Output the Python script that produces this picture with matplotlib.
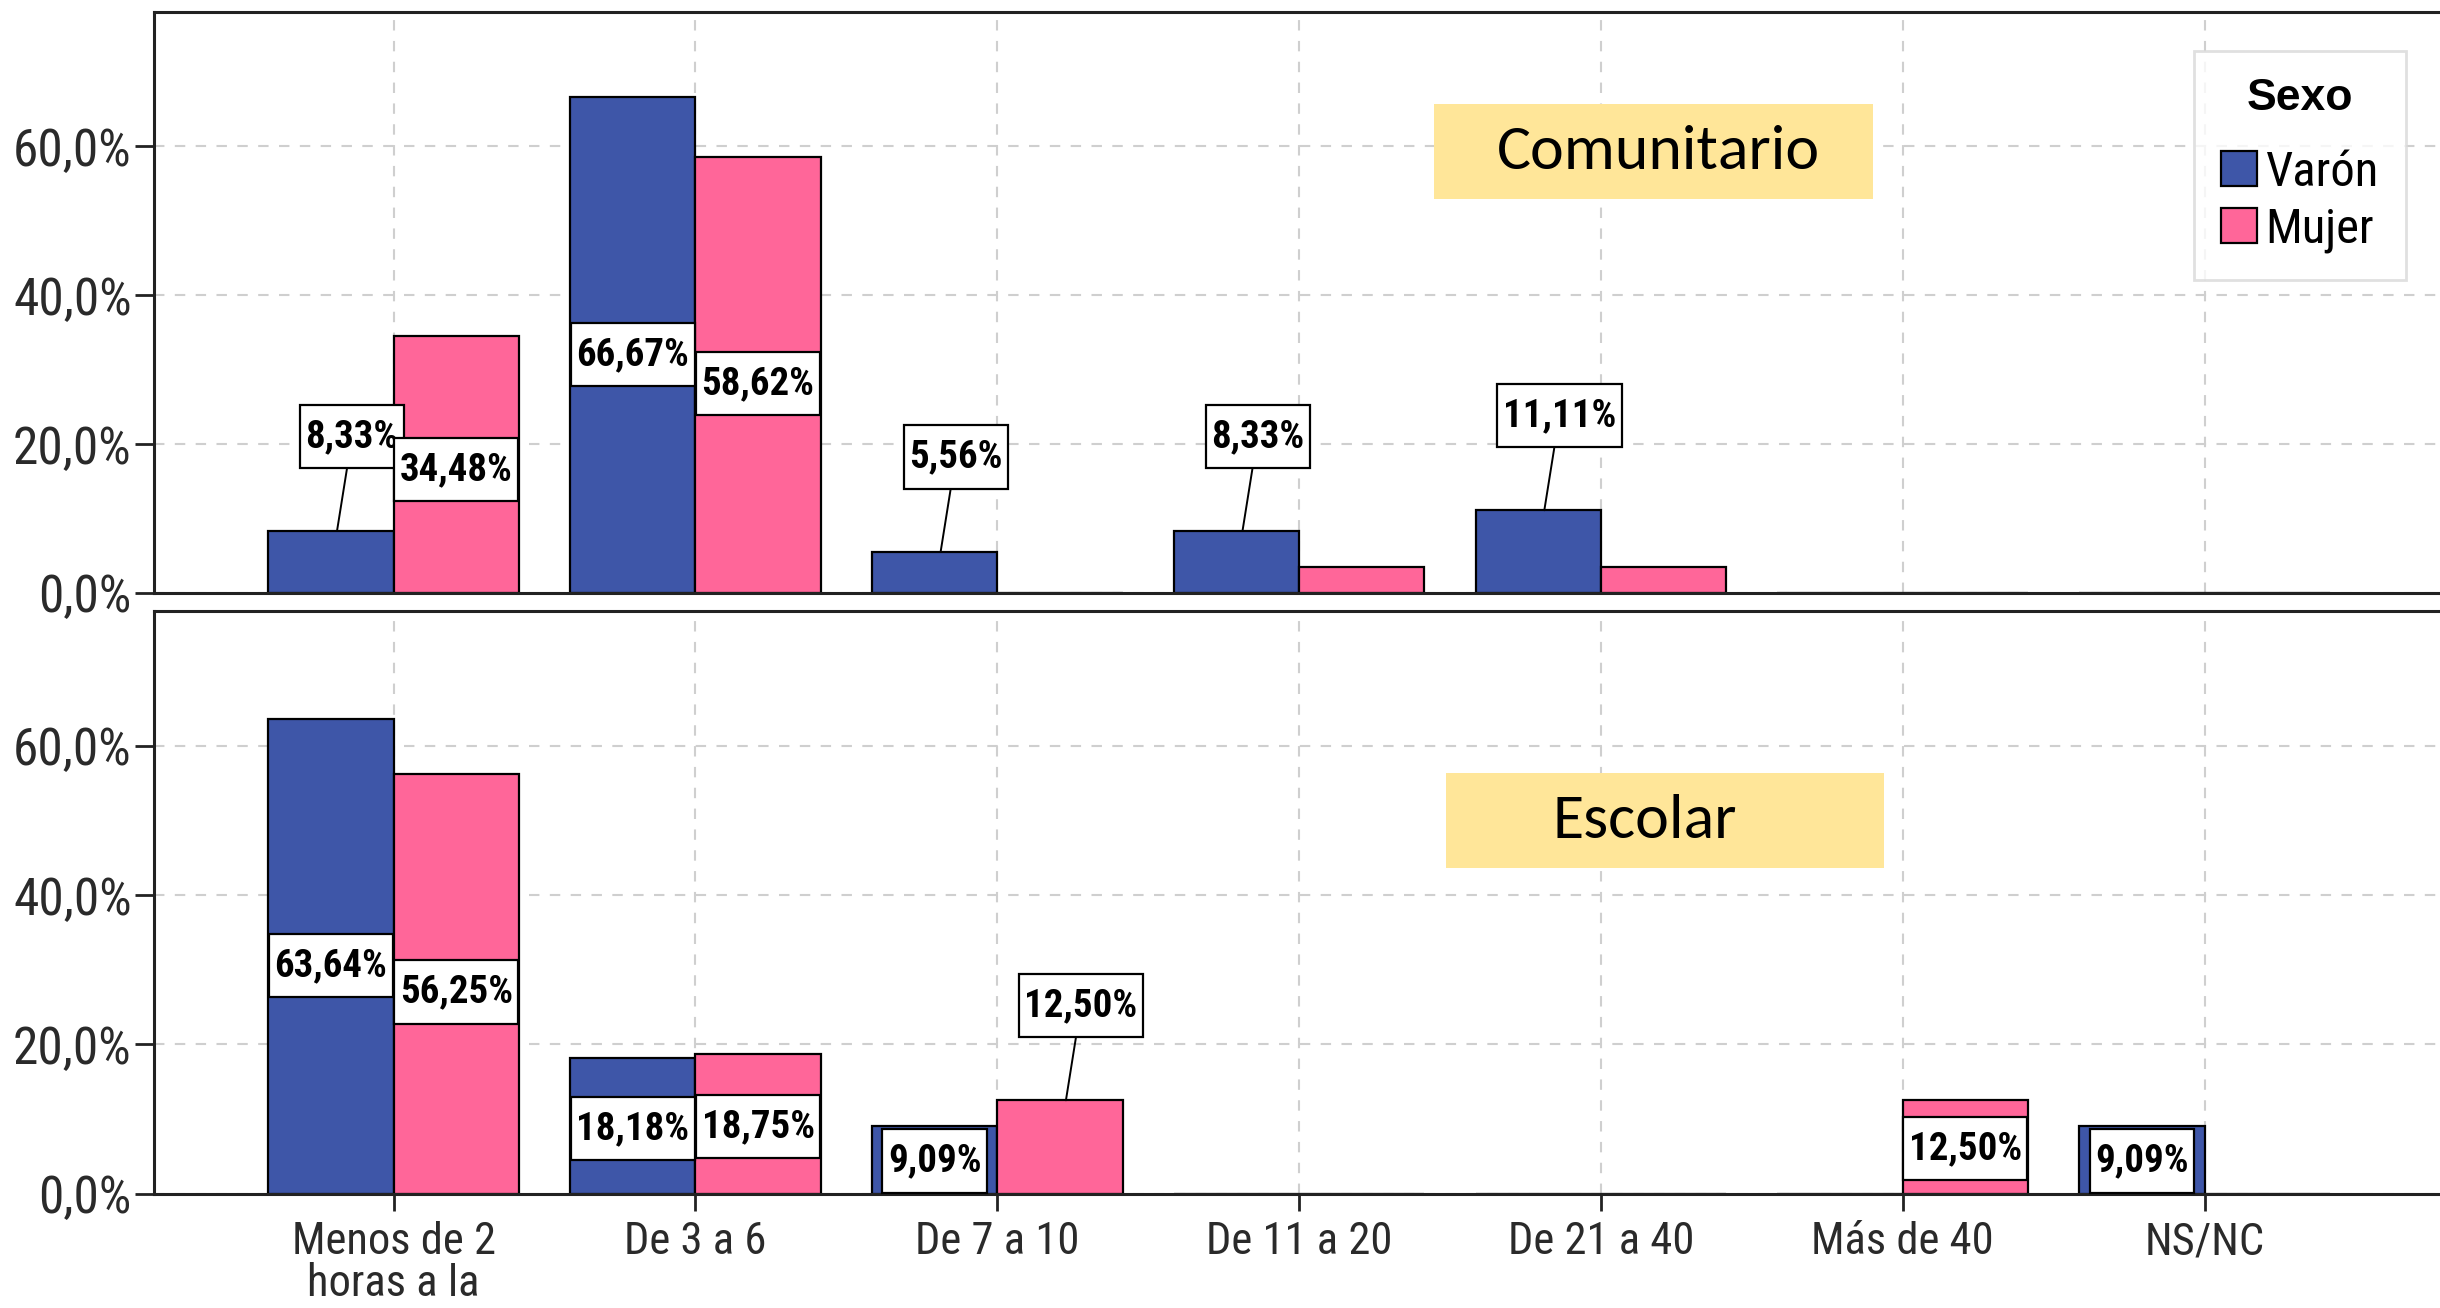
import matplotlib
matplotlib.use('Agg')
import matplotlib.pyplot as plt
from matplotlib.patches import Rectangle, Patch
from matplotlib.path import Path
import numpy as np

# ---------------- data ----------------
categories = ['Menos de 2\nhoras a la', 'De 3 a 6', 'De 7 a 10', 'De 11 a 20',
              'De 21 a 40', 'Más de 40', 'NS/NC']
series_names = ['Varón', 'Mujer']
legend_title = 'Sexo'
panel_titles = ['Comunitario', 'Escolar']

comunitario_varon = [8.33, 66.67, 5.56, 8.33, 11.11, 0, 0]
comunitario_mujer = [34.48, 58.62, 0, 3.45, 3.45, 0, 0]
escolar_varon = [63.64, 18.18, 9.09, 0, 0, 0, 9.09]
escolar_mujer = [56.25, 18.75, 12.50, 0, 0, 12.50, 0]

# label placement: 'in' = inside bar, 'out' = above with leader line, '' = none
comunitario_varon_lbl = ['out', 'in', 'out', 'out', 'out', '', '']
comunitario_mujer_lbl = ['in', 'in', '', '', '', '', '']
escolar_varon_lbl = ['in', 'in', 'in', '', '', '', 'in']
escolar_mujer_lbl = ['in', 'in', 'out', '', '', 'in', '']

yticks = [0, 20, 40, 60]
ytick_labels = ['0,0%', '20,0%', '40,0%', '60,0%']

# ---------------- style ----------------
BLUE = '#3E56A8'
PINK = '#FF6699'
NARROW = ['Roboto Condensed', 'PT Sans Narrow', 'DejaVu Sans']
TITLE_FONT = ['Carlito', 'Lato', 'DejaVu Sans']
BAR_W = 0.415

fig = plt.figure(figsize=(24.4, 13.08), dpi=100)
ax1 = fig.add_axes([0.0631, 0.5467, 0.9369, 0.4438])
ax2 = fig.add_axes([0.0631, 0.0875, 0.9369, 0.4450])

panels = [
    (ax1, comunitario_varon, comunitario_mujer, comunitario_varon_lbl, comunitario_mujer_lbl,
     panel_titles[0], (0.560, 0.678, 0.192, 0.164), 0.002),
    (ax2, escolar_varon, escolar_mujer, escolar_varon_lbl, escolar_mujer_lbl,
     panel_titles[1], (0.565, 0.559, 0.192, 0.163), -0.009),
]

x = np.arange(len(categories))


def fmt(v):
    return f'{v:.2f}%'.replace('.', ',')


def label_box(x0, y0, width, height, mutation_size):
    padx = 0.14 * mutation_size
    pady = 0.34 * mutation_size
    x0, y0 = x0 - padx, y0 - pady
    x1, y1 = x0 + width + 2 * padx, y0 + height + 2 * pady
    return Path([(x0, y0), (x1, y0), (x1, y1), (x0, y1), (x0, y0)], closed=True)


box_style = dict(boxstyle=label_box, fc='white', ec='black', lw=1.6)

for ax, varon, mujer, lv, lm, title, tbox, tdx in panels:
    ax.set_xlim(-0.794, 6.78)
    ax.set_ylim(0, 78)
    ax.set_axisbelow(True)
    ax.grid(True, color='#cfcfcf', linestyle=(0, (5, 5)), linewidth=1.5)

    for offs, vals, labs, col in ((-BAR_W / 2, varon, lv, BLUE), (BAR_W / 2, mujer, lm, PINK)):
        ax.bar(x + offs, vals, BAR_W, color=col, edgecolor='black', linewidth=1.6, zorder=2)
        for xi, v, mode in zip(x + offs, vals, labs):
            if mode == 'in':
                ax.text(xi, v * 0.48, fmt(v), ha='center', va='center', fontsize=28,
                        fontweight='bold', family=NARROW, bbox=box_style, zorder=5)
            elif mode == 'out':
                ax.annotate(fmt(v), xy=(xi + 0.02, v), xytext=(xi + 0.07, v + 12.7),
                            ha='center', va='center', fontsize=28, fontweight='bold',
                            family=NARROW, bbox=box_style, zorder=5,
                            arrowprops=dict(arrowstyle='-', color='black', lw=1.4,
                                            shrinkA=0, shrinkB=0))

    # title box
    ax.add_patch(Rectangle((tbox[0], tbox[1]), tbox[2], tbox[3], transform=ax.transAxes,
                           facecolor='#FFE699', edgecolor='none', zorder=4))
    ax.text(tbox[0] + tbox[2] / 2 + tdx, tbox[1] + tbox[3] / 2, title, transform=ax.transAxes,
            ha='center', va='center', fontsize=46, family=TITLE_FONT, color='black', zorder=5)

    ax.set_yticks(yticks)
    ax.set_yticklabels(ytick_labels, family=NARROW, fontsize=37, color='#2a2a2a')
    ax.set_xticks(x)
    ax.tick_params(axis='y', length=14, width=2, color='#222222', pad=2)
    for s in ['top', 'left', 'bottom']:
        ax.spines[s].set_linewidth(2.2)
        ax.spines[s].set_color('#222222')
    ax.spines['right'].set_visible(False)

ax1.tick_params(axis='x', length=0, labelbottom=False)
ax2.set_xticklabels(categories, family=NARROW, fontsize=32, color='#2a2a2a', linespacing=0.98)
ax2.tick_params(axis='x', length=12, width=2, color='#222222', pad=8)

handles = [Patch(facecolor=BLUE, edgecolor='black', linewidth=1.6),
           Patch(facecolor=PINK, edgecolor='black', linewidth=1.6)]
leg = ax1.legend(handles, series_names, title=legend_title, loc='upper right',
                 bbox_to_anchor=(0.985, 0.933), borderaxespad=0, fancybox=False,
                 frameon=True, handlelength=0.75, handleheight=0.75, handletextpad=0.17,
                 labelspacing=0.22, borderpad=0.55, prop={'family': NARROW, 'size': 35},
                 title_fontproperties={'family': ['Liberation Sans', 'DejaVu Sans'],
                                       'weight': 'bold', 'size': 32})
leg.get_frame().set_edgecolor('#d9d9d9')
leg.get_frame().set_linewidth(2)
leg.set_zorder(6)
leg._legend_box.sep = 22

fig.savefig('out.png', dpi=100)
